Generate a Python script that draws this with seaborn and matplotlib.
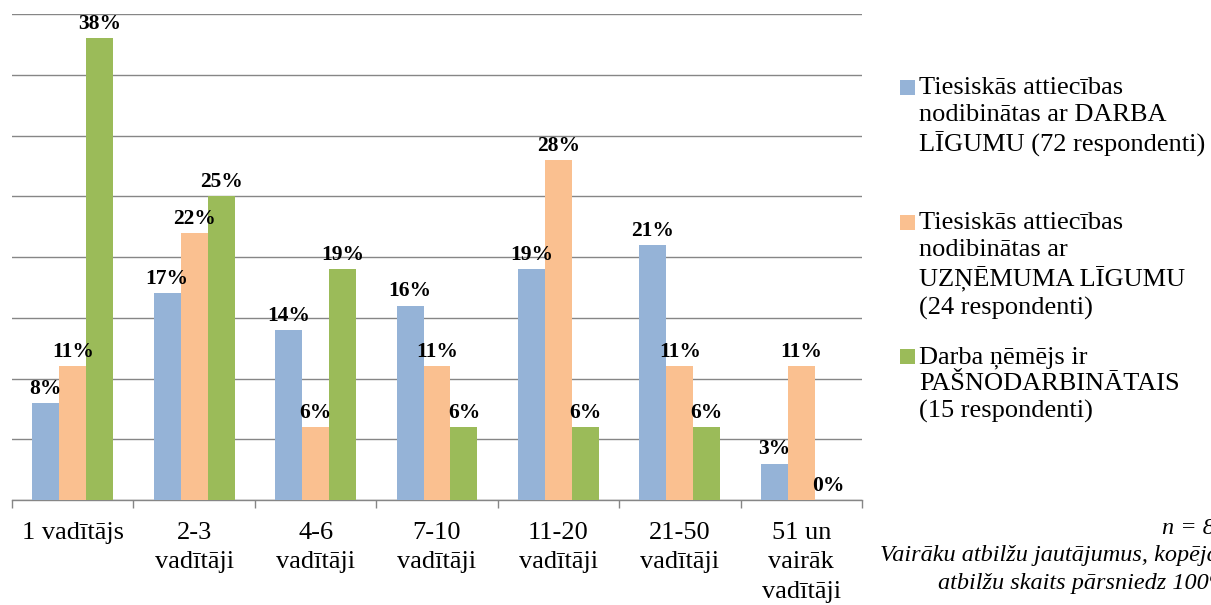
import matplotlib
matplotlib.use("Agg")
import matplotlib.pyplot as plt
from matplotlib.patches import Rectangle
import seaborn as sns
import pandas as pd

plt.rcParams["font.family"] = ["Liberation Serif", "DejaVu Serif"]

categories = ["1 vadītājs", "2-3\nvadītāji", "4-6\nvadītāji", "7-10\nvadītāji",
              "11-20\nvadītāji", "21-50\nvadītāji", "51 un\nvairāk\nvadītāji"]
series = ["Tiesiskās attiecības\nnodibinātas ar DARBA\nLĪGUMU (72 respondenti)",
          "Tiesiskās attiecības\nnodibinātas ar\nUZŅĒMUMA LĪGUMU\n(24 respondenti)",
          "Darba ņēmējs ir\nPAŠNODARBINĀTAIS\n(15 respondenti)"]
darba_ligums = [8, 17, 14, 16, 19, 21, 3]
uznemuma_ligums = [11, 22, 6, 11, 28, 11, 11]
pasnodarbinatais = [38, 25, 19, 6, 6, 6, 0]
colors = ["#95B3D7", "#FAC090", "#9BBB59"]

values = [darba_ligums, uznemuma_ligums, pasnodarbinatais]
rows = []
for s, vals in zip(series, values):
    for c, v in zip(categories, vals):
        rows.append({"kategorija": c, "grupa": s, "procenti": v})
df = pd.DataFrame(rows)

W, H = 1211, 605
fig = plt.figure(figsize=(W / 100, H / 100), dpi=100)
ax = fig.add_axes([12 / W, 1 - 500 / H, 850 / W, 486 / H])

sns.barplot(data=df, x="kategorija", y="procenti", hue="grupa",
            order=categories, hue_order=series, palette=colors,
            width=0.667, gap=0, linewidth=0, saturation=1,
            legend=False, ax=ax, zorder=3)

for cont, vals in zip(ax.containers, values):
    ax.bar_label(cont, labels=[f"{v}%" for v in vals], padding=3,
                 fontsize=15.5, fontweight="bold", zorder=4)

ax.set_ylim(0, 40)
ax.set_xlim(-0.5, len(categories) - 0.5)
ax.set_yticks(range(0, 41, 5))
ax.yaxis.grid(True, color="#868686", linewidth=1.0, zorder=0)
ax.set_axisbelow(True)
ax.tick_params(axis="y", left=False, labelleft=False)
for side in ["left", "right", "top"]:
    ax.spines[side].set_visible(False)
ax.spines["bottom"].set_color("#868686")
ax.spines["bottom"].set_linewidth(1.0)
ax.set_xlabel("")
ax.set_ylabel("")

ax.set_xticks(range(len(categories)))
ax.set_xticklabels(categories, fontsize=19, linespacing=1.42)
ax.tick_params(axis="x", which="major", length=0, pad=16)
ax.set_xticks([i - 0.5 for i in range(len(categories) + 1)], minor=True)
ax.tick_params(axis="x", which="minor", length=6, width=1.0, color="#868686")

# legend drawn as text blocks with colour squares
legend_tops = [77, 212, 346]
for s, col, top in zip(series, colors, legend_tops):
    fig.patches.append(Rectangle((900 / W, 1 - (top + 18) / H), 15 / W, 15 / H,
                                 transform=fig.transFigure, facecolor=col,
                                 edgecolor="none"))
    fig.text(919 / W, 1 - top / H, s, fontsize=19, va="top", ha="left",
             linespacing=1.28)

fig.text(1162 / W, 1 - 528 / H, "n = 87", fontsize=17.5, style="italic",
         va="center", ha="left")
fig.text(880 / W, 1 - 556 / H, "Vairāku atbilžu jautājumus, kopējais", fontsize=17.5,
         style="italic", va="center", ha="left")
fig.text(938 / W, 1 - 583 / H, "atbilžu skaits pārsniedz 100%", fontsize=17.5,
         style="italic", va="center", ha="left")

fig.savefig("out.png", dpi=100)
